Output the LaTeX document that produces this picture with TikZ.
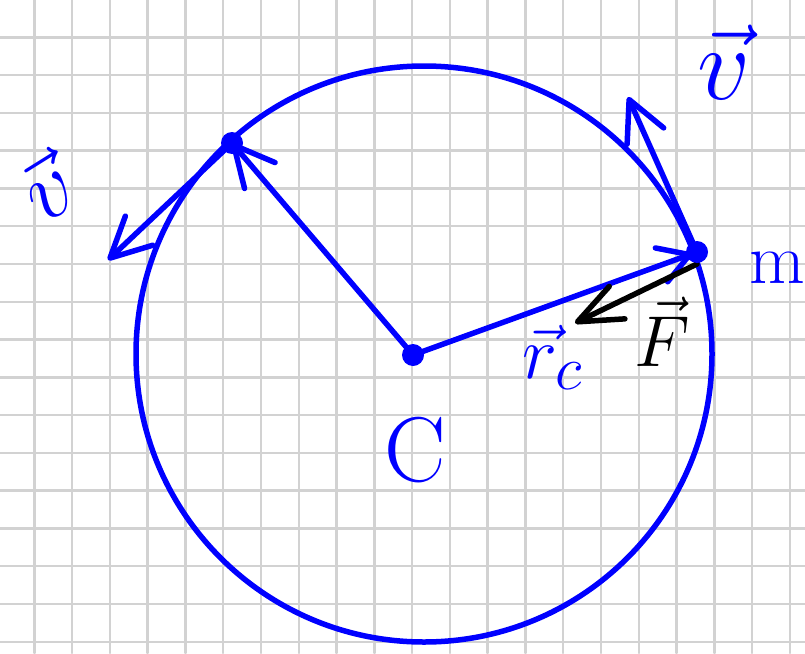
\documentclass[tikz,border=0pt]{standalone}
\usetikzlibrary{arrows.meta}
\definecolor{pen}{RGB}{0,0,255}
\definecolor{gridgray}{RGB}{210,210,210}
\tikzset{lbl/.style={text=pen,font=\Huge,inner sep=0pt}}

\begin{document}
\begin{tikzpicture}[x=1pt,y=-1pt,line cap=round,line join=round,
  >={Straight Barb[round,length=40pt,width=40pt]}]
  \def\Gs{37.78}\def\Rr{288}
  \useasboundingbox[fill=white] (0,0) rectangle (805,653);
  % squared paper
  \foreach \i in {0,...,20} \draw[gridgray,line width=2.5pt] ({34.3+\Gs*\i},0) -- ++(0,653);
  \foreach \j in {0,...,16} \draw[gridgray,line width=2.5pt] (0,{37.3+\Gs*\j}) -- ++(805,0);
  % orbit
  \coordinate (O) at (424,354);
  \draw[pen,line width=5.5pt] (O) circle[radius=\Rr];
  \coordinate (C) at (413,355);
  \coordinate (P) at (232,143);
  \coordinate (M) at (697,252);
  \coordinate (Mf) at (697,264);
  \coordinate (Vp) at (108,260);
  \coordinate (Vm) at (628,97);
  \coordinate (Fm) at (575,323);
  \draw[pen,line width=5.5pt,->] (C) -- (P);
  \draw[pen,line width=5.5pt,->,>={Straight Barb[round,length=30pt,width=36pt]},shorten >=5pt] (C) -- (M);
  \draw[pen,line width=5.5pt,->] (P) -- (Vp);
  \draw[pen,line width=5.5pt,->] (M) -- (Vm);
  \draw[line width=5.5pt,->,>={Straight Barb[round,length=44pt,width=36pt]}] (Mf) -- (Fm);
  \foreach \p in {C,P,M} \fill[pen] (\p) circle[radius=11];
  % labels
  \node[lbl,scale=3.7] (lc) at (415,450) {C};
  \node[lbl,scale=2.9] (lm) at (777,268) {m};
  \node[lbl,scale=4.2] (lv) at (724,62) {$\vec v$};
  \node[lbl,scale=3.6,rotate=32] (lv2) at (46,186) {$\vec v$};
  \node[lbl,scale=3] (lr) at (553,357) {$\vec r_c$};
  \node[lbl,scale=2.9,text=black] (lf) at (662,332) {$\vec F$};
\end{tikzpicture}
\end{document}
